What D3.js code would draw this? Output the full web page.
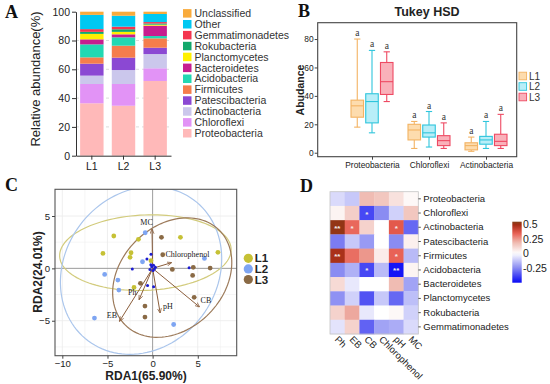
<!DOCTYPE html>
<html>
<head>
<meta charset="utf-8">
<script src="https://cdn.jsdelivr.net/npm/d3@7"></script>
<style>
  body { margin: 0; background: #fff; }
  svg { display: block; font-family: "Liberation Sans", Arial, sans-serif; }
</style>
</head>
<body>
<svg id="fig" width="550" height="384"></svg>
<script>
// ===== data =====

// panel A: stacked relative abundance (%), bottom -> top
const phyla = ['Proteobacteria', 'Chloroflexi', 'Actinobacteria', 'Patescibacteria', 'Firmicutes',
  'Acidobacteria', 'Bacteroidetes', 'Planctomycetes', 'Rokubacteria', 'Gemmatimonadetes', 'Other', 'Unclassified'];
const samples = ['L1', 'L2', 'L3'];
const abundL1 = [36.4, 13.4, 5.8, 8.3, 4.4, 9.0, 3.5, 3.8, 1.4, 1.9, 9.9, 2.2];
const abundL2 = [34.7, 15.1, 9.7, 8.6, 8.3, 5.8, 2.1, 1.7, 1.8, 1.8, 7.6, 2.8];
const abundL3 = [51.9, 8.8, 9.9, 4.4, 6.5, 1.6, 7.2, 0.7, 0.8, 1.0, 5.6, 1.6];
const phylaColors = ['#ffb9b9', '#e293f6', '#cbc7ec', '#8b48d3', '#f57d4c',
  '#22d8b2', '#c71e8f', '#fff000', '#12a86b', '#f4354f', '#00c8f2', '#f9ab3c'];
const yTicksA = [0, 20, 40, 60, 80, 100];

// panel B: box stats [min, q1, median, q3, max]
const boxGroups = ['Proteobacteria', 'Chloroflexi', 'Actinobacteria'];
const boxL1 = [[18, 25, 33, 37, 80], [3, 9, 16, 20, 22], [1, 2, 5, 7, 11]];
const boxL2 = [[14, 21, 36, 41.5, 72], [4, 11, 14, 19.5, 29], [3, 6, 9, 11.5, 22]];
const boxL3 = [[36, 41, 50, 63.5, 71], [3, 5, 8.5, 12, 21], [3, 5, 8, 13, 27]];
const boxLetters = ['a', 'a', 'a'];
const yTicksB = [0, 20, 40, 60, 80];

// panel C: RDA site scores
const siteL1 = [[-4.3, 3.09], [-1.57, 2.77], [-5.5, 1.43], [-2.39, 1.49], [-2.5, 1.05],
  [-0.18, 0.73], [3.08, 2.96], [7.23, 1.53], [-2.06, -1.82]];
const siteL2 = [[-0.82, 3.4], [-1.12, 0.63], [-5.31, -0.58], [-3.85, -1.12], [-3.74, -2.07],
  [5.74, 0.95], [-6.44, -4.75], [2.33, -5.36]];
const siteL3 = [[0.98, 2.96], [1.12, 1.3], [2.18, -0.1], [4.5, 0.1], [6.37, 0.03],
  [4.43, -0.67], [-1.35, -1.43], [4.6, -2.77], [-0.85, -3.6], [-0.85, -4.65]];
// species scores (small dark dots)
const speciesPts = [[-0.18, 1.34], [-0.63, 0.89], [-2.25, -0.07], [-0.56, -1.63], [0.11, -1.76],
  [4.04, 0.06], [-0.3, -0.1], [0.1, 0.3], [0.2, -0.05], [-0.1, 0.15], [0.3, 0.1], [-0.2, 0.35], [0.05, -0.2]];
// environmental arrows
const envVars = ['MC', 'Chlorophenol', 'Ph', 'EB', 'pH', 'CB'];
const envEnd = [[-0.07, 3.73], [2.07, 0.54], [-1.49, -2.97], [-3.66, -5.04], [0.83, -4.24], [5.17, -3.67]];
const envLabel = [[-0.67, 4.4], [3.85, 1.34], [-2.25, -2.3], [-4.5, -4.45], [1.7, -3.6], [5.9, -3.05]];
// confidence ellipses: [cx, cy, rx, ry, angle deg]
const ellL1 = [-0.8, 1.5, 9.5, 3.6, 2];
const ellL2 = [-1.28, -0.2, 9.2, 7.7, 26];
const ellL3 = [2.17, -0.88, 7.0, 5.2, 30];
const xTicksC = [-10, -5, 0, 5];
const yTicksC = [-5, 0, 5];

// panel D: correlation heatmap
const heatRows = ['Proteobacteria', 'Chloroflexi', 'Actinobacteria', 'Patescibacteria', 'Firmicutes',
  'Acidobacteria', 'Bacteroidetes', 'Planctomycetes', 'Rokubacteria', 'Gemmatimonadetes'];
const heatCols = ['Ph', 'EB', 'CB', 'Chlorophenol', 'pH', 'MC'];
const heatVals = [
  [-0.08, -0.12, 0.18, 0.15, 0.08, 0.02],
  [0.03, 0.13, -0.38, -0.25, -0.1, 0.15],
  [0.52, 0.33, 0.12, 0.0, 0.36, -0.32],
  [-0.28, -0.12, -0.22, 0.0, -0.25, 0.04],
  [0.48, 0.32, 0.25, 0.05, 0.34, -0.15],
  [-0.25, -0.17, -0.38, -0.15, -0.48, 0.03],
  [0.1, -0.05, 0.0, 0.0, 0.18, -0.2],
  [-0.24, -0.1, -0.36, -0.12, -0.32, -0.14],
  [0.12, 0.22, -0.05, 0.0, 0.02, -0.1],
  [-0.06, 0.12, -0.33, -0.2, -0.18, -0.08]
];
const heatStars = [
  ['', '', '', '', '', ''],
  ['', '', '*', '', '', ''],
  ['**', '*', '', '', '*', ''],
  ['', '', '', '', '', ''],
  ['**', '', '', '', '*', ''],
  ['', '', '*', '', '**', ''],
  ['', '', '', '', '', ''],
  ['', '', '', '', '', ''],
  ['', '', '', '', '', ''],
  ['', '', '', '', '', '']
];
const cbarTicks = [0.5, 0.25, 0, -0.25];

// ===== setup =====
const svg = d3.select('#fig');
const serif = '"Liberation Serif", "Times New Roman", serif';

function panelLetter(t, x, y) {
  svg.append('text').attr('x', x).attr('y', y).text(t)
    .attr('font-family', serif).attr('font-weight', 'bold').attr('font-size', 18).attr('fill', '#111');
}
panelLetter('A', 5, 18);
panelLetter('B', 298, 17);
panelLetter('C', 5, 191);
panelLetter('D', 300, 192);

// ----- panel A -----
(function () {
  const g = svg.append('g');
  const y = d3.scaleLinear().domain([0, 100]).range([155.7, 11.7]);
  const x = d3.scaleBand().domain(samples).range([76, 171]).paddingInner(0.26).paddingOuter(0.13);

  // dashed grid
  g.selectAll('line.grid').data(yTicksA.slice(1, 5)).enter().append('line')
    .attr('x1', 76).attr('x2', 171).attr('y1', d => y(d)).attr('y2', d => y(d))
    .attr('stroke', '#dcdcdc').attr('stroke-dasharray', '3,3');

  const all = [abundL1, abundL2, abundL3];
  const rows = samples.map((s, i) => {
    const r = { sample: s };
    phyla.forEach((p, j) => r[p] = all[i][j]);
    return r;
  });
  const stack = d3.stack().keys(phyla)(rows);
  const color = d3.scaleOrdinal().domain(phyla).range(phylaColors);

  g.selectAll('g.layer').data(stack).enter().append('g')
    .attr('fill', d => color(d.key))
    .selectAll('rect').data(d => d).enter().append('rect')
    .attr('x', d => x(d.data.sample))
    .attr('width', x.bandwidth())
    .attr('y', d => y(d[1]))
    .attr('height', d => y(d[0]) - y(d[1]));

  const ya = g.append('g').attr('transform', 'translate(76,0)')
    .call(d3.axisLeft(y).tickValues(yTicksA).tickSize(4).tickSizeOuter(0).tickPadding(2));
  const xa = g.append('g').attr('transform', 'translate(0,155.7)')
    .call(d3.axisBottom(x).tickSize(4).tickSizeOuter(0).tickPadding(3));
  [ya, xa].forEach(a => {
    a.selectAll('path,line').attr('stroke', '#333');
    a.selectAll('text').attr('font-size', 10.5).attr('fill', '#222')
      .attr('font-family', '"Liberation Sans", Arial, sans-serif');
  });

  g.append('text').attr('transform', 'translate(40,79) rotate(-90)')
    .attr('text-anchor', 'middle').attr('font-size', 13).attr('fill', '#222')
    .text('Relative abundance(%)');

  // legend (top = last stacked)
  const legend = phyla.slice().reverse();
  const lg = g.selectAll('g.leg').data(legend).enter().append('g')
    .attr('transform', (d, i) => `translate(183,${13.3 + i * 10.9})`);
  lg.append('rect').attr('x', 0).attr('y', -4.2).attr('width', 8.5).attr('height', 8.5)
    .attr('fill', d => color(d));
  lg.append('text').attr('x', 11.5).attr('y', 0).attr('dy', '0.36em')
    .attr('font-size', 10.5).attr('fill', '#333').text(d => d);
})();

// ----- panel B -----
(function () {
  const g = svg.append('g');
  const y = d3.scaleLinear().domain([-2.8, 91.5]).range([156.7, 22.7]);
  const x = d3.scalePoint().domain(boxGroups).range([372, 486]);
  const series = ['L1', 'L2', 'L3'];
  const xi = d3.scaleBand().domain(series).range([-21, 21]).paddingInner(0.15);
  const stroke = { L1: '#f3b363', L2: '#2fc5dc', L3: '#ee4a63' };
  const fill = { L1: '#fddcae', L2: '#b8eef8', L3: '#f9b1ba' };
  const stats = { L1: boxL1, L2: boxL2, L3: boxL3 };

  g.append('text').attr('x', 427).attr('y', 16).attr('text-anchor', 'middle')
    .attr('font-size', 12.5).attr('font-weight', 'bold').attr('fill', '#222').text('Tukey HSD');

  const boxes = [];
  series.forEach(s => boxGroups.forEach((grp, gi) => boxes.push({ s, grp, v: stats[s][gi], letter: boxLetters[gi] })));
  const bw = xi.bandwidth();
  const bx = g.selectAll('g.box').data(boxes).enter().append('g')
    .attr('transform', d => `translate(${x(d.grp) + xi(d.s) + bw / 2},0)`)
    .attr('stroke', d => stroke[d.s]).attr('stroke-width', 1.1);
  bx.append('line').attr('y1', d => y(d.v[0])).attr('y2', d => y(d.v[1]));
  bx.append('line').attr('y1', d => y(d.v[3])).attr('y2', d => y(d.v[4]));
  bx.append('line').attr('x1', -bw * 0.25).attr('x2', bw * 0.25).attr('y1', d => y(d.v[0])).attr('y2', d => y(d.v[0]));
  bx.append('line').attr('x1', -bw * 0.25).attr('x2', bw * 0.25).attr('y1', d => y(d.v[4])).attr('y2', d => y(d.v[4]));
  bx.append('rect').attr('x', -bw / 2).attr('width', bw)
    .attr('y', d => y(d.v[3])).attr('height', d => y(d.v[1]) - y(d.v[3]))
    .attr('fill', d => fill[d.s]);
  bx.append('line').attr('x1', -bw / 2).attr('x2', bw / 2).attr('y1', d => y(d.v[2])).attr('y2', d => y(d.v[2]));
  bx.append('text').attr('y', d => y(d.v[4]) - 3).attr('text-anchor', 'middle')
    .attr('stroke', 'none').attr('fill', '#333').attr('font-family', serif).attr('font-size', 9.5)
    .text(d => d.letter);

  g.append('rect').attr('x', 317.7).attr('y', 22.7).attr('width', 199).attr('height', 134)
    .attr('fill', 'none').attr('stroke', '#444').attr('stroke-width', 1.1);

  const ya = g.append('g').attr('transform', 'translate(317.7,0)')
    .call(d3.axisLeft(y).tickValues(yTicksB).tickSize(3).tickSizeOuter(0).tickPadding(1));
  const xa = g.append('g').attr('transform', 'translate(0,156.7)')
    .call(d3.axisBottom(x).tickSize(3).tickSizeOuter(0).tickPadding(2));
  [ya, xa].forEach(a => {
    a.select('.domain').remove();
    a.selectAll('line').attr('stroke', '#444');
    a.selectAll('text').attr('font-size', 8.4).attr('fill', '#222')
      .attr('font-family', '"Liberation Sans", Arial, sans-serif');
  });

  g.append('text').attr('transform', 'translate(303.5,90) rotate(-90)')
    .attr('text-anchor', 'middle').attr('font-size', 10.5).attr('font-weight', 'bold')
    .attr('fill', '#222').text('Abudance');

  const lg = g.selectAll('g.leg').data(series).enter().append('g')
    .attr('transform', (d, i) => `translate(519,${76 + i * 10.5})`);
  lg.append('rect').attr('x', 0).attr('y', -3.8).attr('width', 7.6).attr('height', 7.6)
    .attr('fill', d => fill[d]).attr('stroke', d => stroke[d]).attr('stroke-width', 0.9);
  lg.append('text').attr('x', 10).attr('dy', '0.36em').attr('font-size', 10).attr('fill', '#333').text(d => d);
})();

// ----- panel C -----
(function () {
  const g = svg.append('g');
  const x = d3.scaleLinear().domain([-10.81, 9.31]).range([55, 236.7]);
  const y = d3.scaleLinear().domain([-8.34, 7.55]).range([355.7, 189.3]);

  g.append('clipPath').attr('id', 'clipC').append('rect')
    .attr('x', 55).attr('y', 189.3).attr('width', 181.7).attr('height', 166.4);

  // grid
  const minorX = [-7.5, -2.5, 2.5, 7.5], minorY = [-7.5, -2.5, 2.5];
  g.selectAll('line.gx').data(xTicksC.concat(minorX)).enter().append('line')
    .attr('x1', d => x(d)).attr('x2', d => x(d)).attr('y1', 189.3).attr('y2', 355.7)
    .attr('stroke', '#ececec').attr('stroke-width', d => Number.isInteger(d) ? 0.9 : 0.5);
  g.selectAll('line.gy').data(yTicksC.concat(minorY)).enter().append('line')
    .attr('y1', d => y(d)).attr('y2', d => y(d)).attr('x1', 55).attr('x2', 236.7)
    .attr('stroke', '#ececec').attr('stroke-width', d => Number.isInteger(d) ? 0.9 : 0.5);
  g.append('line').attr('x1', x(0)).attr('x2', x(0)).attr('y1', 189.3).attr('y2', 355.7).attr('stroke', '#8a8a8a').attr('stroke-width', 0.8);
  g.append('line').attr('y1', y(0)).attr('y2', y(0)).attr('x1', 55).attr('x2', 236.7).attr('stroke', '#8a8a8a').attr('stroke-width', 0.8);

  const groups = [
    { key: 'L1', pts: siteL1, ell: ellL1, col: '#c6c135', ecol: '#d2cb7c' },
    { key: 'L2', pts: siteL2, ell: ellL2, col: '#7ea5f2', ecol: '#abc6ec' },
    { key: 'L3', pts: siteL3, ell: ellL3, col: '#8a6a45', ecol: '#9c7a5a' }
  ];

  function ellipsePts(e) {
    const [cx, cy, rx, ry, ang] = e;
    const a = ang * Math.PI / 180;
    return d3.range(0, 121).map(i => {
      const t = i / 120 * 2 * Math.PI;
      const ex = rx * Math.cos(t), ey = ry * Math.sin(t);
      return [cx + ex * Math.cos(a) - ey * Math.sin(a), cy + ex * Math.sin(a) + ey * Math.cos(a)];
    });
  }
  const line = d3.line().x(d => x(d[0])).y(d => y(d[1]));
  const clipped = g.append('g').attr('clip-path', 'url(#clipC)');
  clipped.selectAll('path.ell').data(groups).enter().append('path')
    .attr('d', d => line(ellipsePts(d.ell)))
    .attr('fill', 'none').attr('stroke', d => d.ecol).attr('stroke-width', 1.2);

  // arrows
  const defs = svg.append('defs');
  defs.append('marker').attr('id', 'arr').attr('viewBox', '0 0 10 10').attr('refX', 9).attr('refY', 5)
    .attr('markerWidth', 5).attr('markerHeight', 5).attr('orient', 'auto')
    .append('path').attr('d', 'M0,1 L10,5 L0,9').attr('fill', 'none').attr('stroke', '#8b5e3c').attr('stroke-width', 1.5);

  clipped.selectAll('line.arrow').data(envEnd).enter().append('line')
    .attr('x1', x(0)).attr('y1', y(0)).attr('x2', d => x(d[0])).attr('y2', d => y(d[1]))
    .attr('stroke', '#8b5e3c').attr('stroke-width', 1).attr('marker-end', 'url(#arr)');

  groups.forEach(gr => {
    clipped.selectAll(null).data(gr.pts).enter().append('circle')
      .attr('cx', d => x(d[0])).attr('cy', d => y(d[1])).attr('r', 2.4).attr('fill', gr.col);
  });
  clipped.selectAll('circle.sp').data(speciesPts).enter().append('circle')
    .attr('cx', d => x(d[0])).attr('cy', d => y(d[1])).attr('r', 1.5).attr('fill', '#1c1cd0');

  g.selectAll('text.env').data(envVars).enter().append('text')
    .attr('x', (d, i) => x(envLabel[i][0])).attr('y', (d, i) => y(envLabel[i][1]))
    .attr('text-anchor', 'middle').attr('dy', '0.35em')
    .attr('font-family', serif).attr('font-size', 8).attr('fill', '#222').text(d => d);

  g.append('rect').attr('x', 55).attr('y', 189.3).attr('width', 181.7).attr('height', 166.4)
    .attr('fill', 'none').attr('stroke', '#555').attr('stroke-width', 1.1);

  const xa = g.append('g').attr('transform', 'translate(0,355.7)')
    .call(d3.axisBottom(x).tickValues(xTicksC).tickSize(3).tickPadding(1.5));
  const ya = g.append('g').attr('transform', 'translate(55,0)')
    .call(d3.axisLeft(y).tickValues(yTicksC).tickSize(3).tickPadding(2));
  [xa, ya].forEach(a => {
    a.select('.domain').remove();
    a.selectAll('line').attr('stroke', '#444');
    a.selectAll('text').attr('font-size', 9.6).attr('fill', '#222')
      .attr('font-family', '"Liberation Sans", Arial, sans-serif');
  });

  g.append('text').attr('x', 146).attr('y', 379.5).attr('text-anchor', 'middle')
    .attr('font-size', 12).attr('font-weight', 'bold').attr('fill', '#222').text('RDA1(65.90%)');
  g.append('text').attr('transform', 'translate(41.5,272) rotate(-90)').attr('text-anchor', 'middle')
    .attr('font-size', 12).attr('font-weight', 'bold').attr('fill', '#222').text('RDA2(24.01%)');

  const lg = g.selectAll('g.leg').data(groups).enter().append('g')
    .attr('transform', (d, i) => `translate(248.3,${258.3 + i * 10.6})`);
  lg.append('circle').attr('r', 4.6).attr('fill', d => d.col);
  lg.append('text').attr('x', 6.5).attr('dy', '0.36em').attr('font-size', 11.5).attr('font-weight', 'bold')
    .attr('fill', '#222').text(d => d.key);
})();

// ----- panel D -----
(function () {
  const g = svg.append('g');
  const x = d3.scaleBand().domain(heatCols).range([330, 418.3]);
  const y = d3.scaleBand().domain(heatRows).range([191.7, 334]);
  const color = d3.scaleLinear()
    .domain([-0.5, -0.25, 0, 0.2, 0.35, 0.5, 0.56])
    .range(['#0a0af5', '#8a8cf2', '#ffffff', '#eeb4aa', '#e85c50', '#a02a12', '#7a4a1c'])
    .clamp(true);

  const cells = [];
  heatRows.forEach((r, i) => heatCols.forEach((c, j) => cells.push({ r, c, v: heatVals[i][j], s: heatStars[i][j] })));
  g.selectAll('rect.cell').data(cells).enter().append('rect')
    .attr('x', d => x(d.c)).attr('y', d => y(d.r))
    .attr('width', x.bandwidth() + 0.3).attr('height', y.bandwidth() + 0.3)
    .attr('fill', d => color(d.v));
  g.selectAll('text.star').data(cells.filter(d => d.s)).enter().append('text')
    .attr('x', d => x(d.c) + x.bandwidth() / 2).attr('y', d => y(d.r) + y.bandwidth() / 2 + 3.5)
    .attr('text-anchor', 'middle').attr('font-size', 8).attr('font-weight', 'bold')
    .attr('fill', '#f4eaea').text(d => d.s);

  g.append('rect').attr('x', 330).attr('y', 191.7).attr('width', 88.3).attr('height', 142.3)
    .attr('fill', 'none').attr('stroke', '#c4c4c4').attr('stroke-width', 0.8);

  const ya = g.append('g').attr('transform', 'translate(418.3,0)')
    .call(d3.axisRight(y).tickSize(2.5).tickSizeOuter(0).tickPadding(2.5));
  ya.select('.domain').remove();
  ya.selectAll('line').attr('stroke', '#555');
  ya.selectAll('text').attr('font-size', 9.5).attr('fill', '#222')
    .attr('font-family', '"Liberation Sans", Arial, sans-serif');

  g.selectAll('text.col').data(heatCols).enter().append('text')
    .attr('transform', d => `translate(${x(d) + x.bandwidth() / 2 - 3},340) rotate(45)`)
    .attr('font-size', 9.5).attr('fill', '#222').text(d => d);

  // colorbar
  const cb = d3.scaleLinear().domain([-0.507, 0.545]).range([282.7, 221.7]);
  const grad = svg.append('defs').append('linearGradient').attr('id', 'cbg')
    .attr('x1', 0).attr('y1', 1).attr('x2', 0).attr('y2', 0);
  d3.range(0, 21).forEach(i => {
    const v = -0.507 + i / 20 * (0.545 + 0.507);
    grad.append('stop').attr('offset', i / 20).attr('stop-color', color(v));
  });
  g.append('rect').attr('x', 512.3).attr('y', 221.7).attr('width', 9.4).attr('height', 61).attr('fill', 'url(#cbg)');
  g.selectAll('text.cb').data(cbarTicks).enter().append('text')
    .attr('x', 523).attr('y', d => cb(d)).attr('dy', '0.36em')
    .attr('font-size', 10.5).attr('fill', '#222').text(d => d);
})();
</script>
</body>
</html>
